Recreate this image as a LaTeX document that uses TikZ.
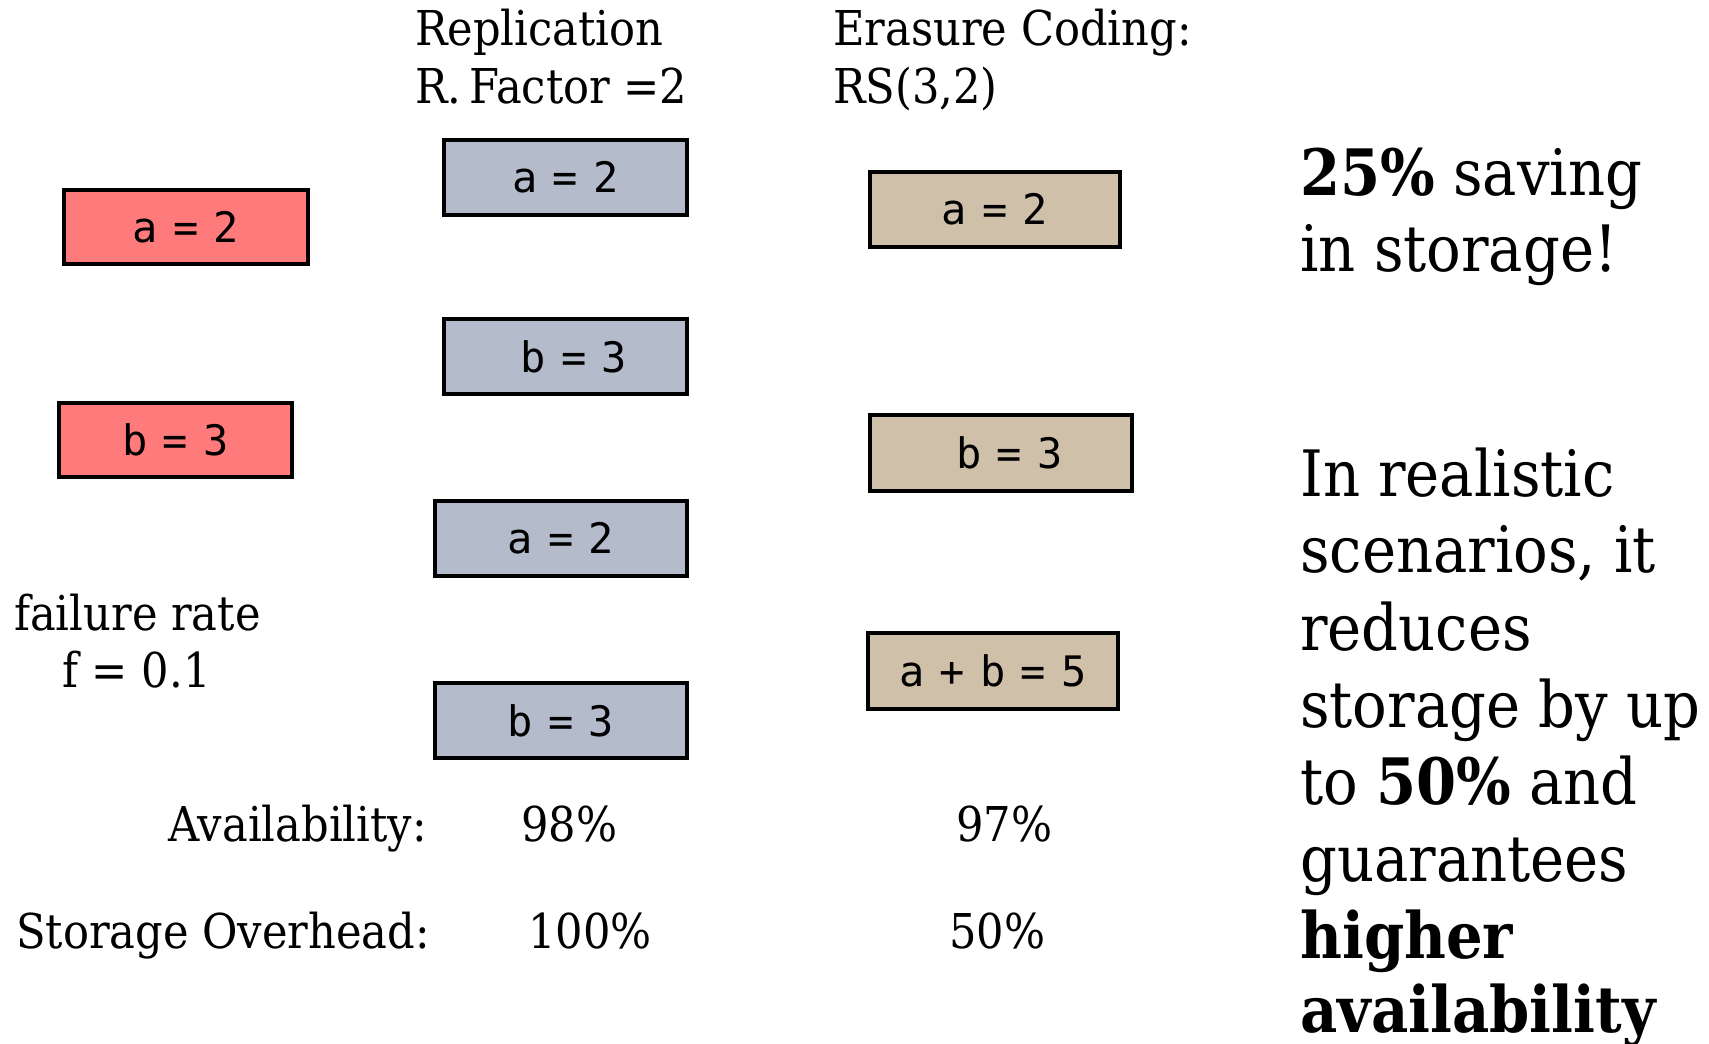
\documentclass[tikz,border=0pt]{standalone}
\usepackage{fontspec}
\setmainfont{DejaVu Serif Condensed}[BoldFont={DejaVu Serif Condensed Bold}]
\newfontfamily\boxfont{DejaVu Sans Mono}
\def\pxu{0.75pt}
\newcommand\bsp{\hspace{0.36em}}
\definecolor{redfill}{RGB}{255,123,123}
\definecolor{grayfill}{RGB}{180,187,203}
\definecolor{tanfill}{RGB}{207,192,170}
\tikzset{
  cell/.style={draw=black, line width=3.6*\pxu, inner sep=0pt, font=\boxfont\fontsize{31.5}{36}\selectfont},
  redcell/.style={cell, fill=redfill},
  graycell/.style={cell, fill=grayfill},
  tancell/.style={cell, fill=tanfill},
  lbl/.style={anchor=base west, inner sep=0pt, font=\fontsize{36}{42}\selectfont},
  big/.style={anchor=base west, inner sep=0pt, font=\fontsize{48}{56}\selectfont},
}
\begin{document}
\begin{tikzpicture}[x=0.75pt,y=-0.75pt]
\useasboundingbox (0,0) rectangle (1709,1044);
% headers
\node[lbl] (h1) at (415,46) {Replication};
\node[lbl] (h2) at (415,104) {R.\,Factor =2};
\node[lbl] (h3) at (833,46) {Erasure Coding:};
\node[lbl] (h4) at (833,104) {RS(3,2)};
% red
\node[redcell, minimum width=244*\pxu, minimum height=74*\pxu] (r1) at (186,227) {a\bsp=\bsp2};
\node[redcell, minimum width=233*\pxu, minimum height=74*\pxu] (r2) at (175.5,440) {b\bsp=\bsp3};
% gray
\node[graycell, minimum width=243*\pxu, minimum height=75*\pxu] (g1) at (565.5,177.5) {a\bsp=\bsp2};
\node[graycell, minimum width=243*\pxu, minimum height=75*\pxu] (g2) at (565.5,356.5) {\hspace*{0.4em}b\bsp=\bsp3};
\node[graycell, minimum width=252*\pxu, minimum height=75*\pxu] (g3) at (561,538.5) {a\bsp=\bsp2};
\node[graycell, minimum width=252*\pxu, minimum height=75*\pxu] (g4) at (561,720.5) {b\bsp=\bsp3};
% tan
\node[tancell, minimum width=250*\pxu, minimum height=75*\pxu] (t1) at (995,209.5) {a\bsp=\bsp2};
\node[tancell, minimum width=262*\pxu, minimum height=76*\pxu] (t2) at (1001,453) {\hspace*{0.4em}b\bsp=\bsp3};
\node[tancell, minimum width=250*\pxu, minimum height=76*\pxu] (t3) at (993,671) {a\bsp+\bsp b\bsp=\bsp5};
% failure rate
\node[lbl] (f1) at (14,630) {failure rate};
\node[lbl] (f2) at (62,687) {f = 0.1};
% metrics
\node[lbl, anchor=base east] (av) at (427,841) {Availability:};
\node[lbl] (av1) at (521,841) {98\%};
\node[lbl] (av2) at (956,841) {97\%};
\node[lbl] (so) at (16,948) {Storage Overhead:};
\node[lbl] (so1) at (528,948) {100\%};
\node[lbl] (so2) at (949,948) {50\%};
% right text
\node[big] (s1) at (1300,196) {\textbf{25\%} saving};
\node[big] (s2) at (1300,272) {in storage!};
\node[big] (p1) at (1300,496) {In realistic};
\node[big] (p2) at (1300,572) {scenarios, it};
\node[big] (p3) at (1300,650) {reduces};
\node[big] (p4) at (1300,727) {storage by up};
\node[big] (p5) at (1300,804) {to \textbf{50\%} and};
\node[big] (p6) at (1300,881) {guarantees};
\node[big] (p7) at (1300,958) {\textbf{higher}};
\node[big] (p8) at (1300,1032) {\textbf{availability}};
\end{tikzpicture}
\end{document}
